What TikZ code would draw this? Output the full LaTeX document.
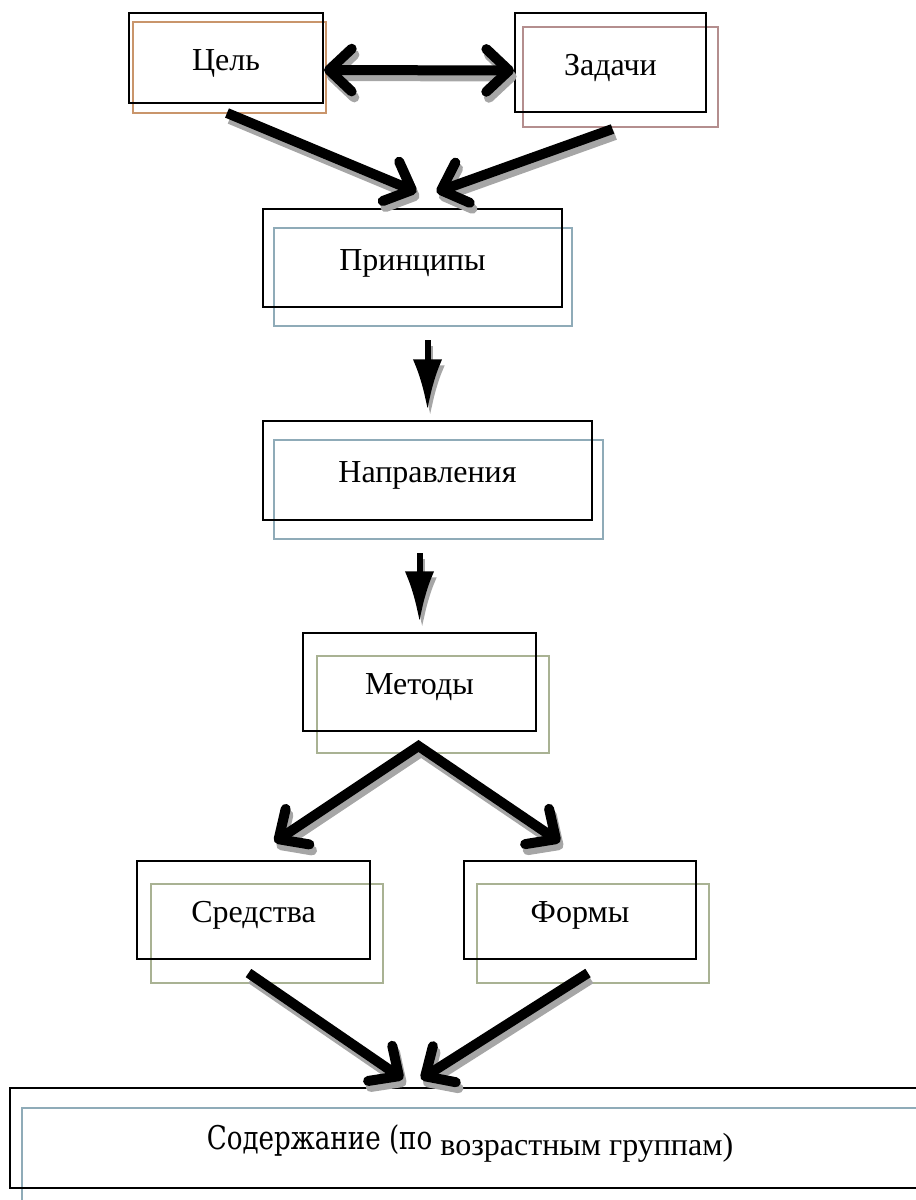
\documentclass[tikz,border=0pt]{standalone}
\usepackage{fontspec}
\setmainfont{Liberation Serif}
\newfontfamily\sodfont{DejaVu Serif}[FakeStretch=0.8]
\usetikzlibrary{arrows.meta}
\usetikzlibrary{calc}
\usetikzlibrary{fit}

\definecolor{celcol}{HTML}{C9956B}
\definecolor{zadcol}{HTML}{B48E8E}
\definecolor{bluecol}{HTML}{8FABB8}
\definecolor{greencol}{HTML}{A9B293}

\tikzset{
  box/.style={draw, line width=1.5pt, inner sep=0pt},
  backbox/.style={draw=#1, line width=1.5pt, inner sep=0pt},
  every label/.style={font=\fontsize{24}{28}\selectfont, inner sep=0pt, yshift=-4pt},
  tarr/.style={line width=7.5pt, >={Straight Barb[length=17pt,width=32pt,round]}},
  varr/.style={line width=4.5pt, -{Latex[length=38pt,width=22pt]}},
}

\begin{document}
\begin{tikzpicture}[x=0.75pt,y=-0.75pt]
            \useasboundingbox (0,0) rectangle (916,1200);
            \clip (0,0) rectangle (916,1200);
            % back frames
            \node[backbox=celcol, fit={(133,22)(326,113)}] (celb) {};
            \node[backbox=zadcol, fit={(523,27)(718,127)}] (zadb) {};
            \node[backbox=bluecol, fit={(274,228)(572,326)}] (prinb) {};
            \node[backbox=bluecol, fit={(274,440)(603,539)}] (naprb) {};
            \node[backbox=greencol, fit={(317,656)(549,753)}] (metb) {};
            \node[backbox=greencol, fit={(151,884)(383,983)}] (srb) {};
            \node[backbox=greencol, fit={(477,884)(709,983)}] (frb) {};
            \node[backbox=bluecol, fit={(22,1108)(940,1220)}] (sodb) {};
            % boxes
            \node[box, fit={(129,13)(323,103)}, label=center:Цель] (cel) {};
            \node[box, fit={(515,13)(706,112)}, label=center:Задачи] (zad) {};
            \node[box, fit={(263,209)(562,307)}, label=center:Принципы] (prin) {};
            \node[box, fit={(263,421)(592,520)}, label=center:Направления] (napr) {};
            \node[box, fit={(303,633)(536,731)}, label=center:Методы] (met) {};
            \node[box, fit={(137,861)(370,959)}, label=center:Средства] (sr) {};
            \node[box, fit={(464,861)(696,959)}, label=center:Формы] (fr) {};
            \node[box, fit={(10,1088)(930,1188)},
              label=center:{{\sodfont\fontsize{24.5}{29}\selectfont Содержание (по} \raisebox{-4.5pt}{возрастным группам)}}] (sod) {};
            % arrows, shadow first
            \foreach \c/\dx/\dy in {black!35/2/-4.5, black/0/0} {
              \begin{scope}[color=\c, transform canvas={shift={(\dx pt,\dy pt)}}]
                \draw[tarr,<->] ($(cel.east)+(0,12)$) -- ($(zad.west)+(0,8)$);
                \draw[tarr,->] ($(cel.south)+(1,9)$) -- ($(prin.north)+(4,-16)$);
                \draw[tarr,->] ($(zad.south)+(2,16)$) -- ($(prin.north)+(24,-16)$);
                \draw[varr] ($(prin.south)+(15,32)$) -- ($(napr.north)+(0,-10)$);
                \draw[varr] ($(napr.south)+(-8,32)$) -- ($(met.north)+(0,-10)$);
                \draw[tarr,<->] ($(sr.north)+(21,-18)$) -- ($(met.south)+(-1,14)$) -- ($(fr.north)+(-20,-18)$);
                \draw[tarr,->] ($(sr.south)+(-5,13)$) -- ($(sod.north)+(-67,-8)$);
                \draw[tarr,->] ($(fr.south)+(8,13)$) -- ($(sod.north)+(-49,-8)$);
              \end{scope}
            }
        \end{tikzpicture}
\end{document}
